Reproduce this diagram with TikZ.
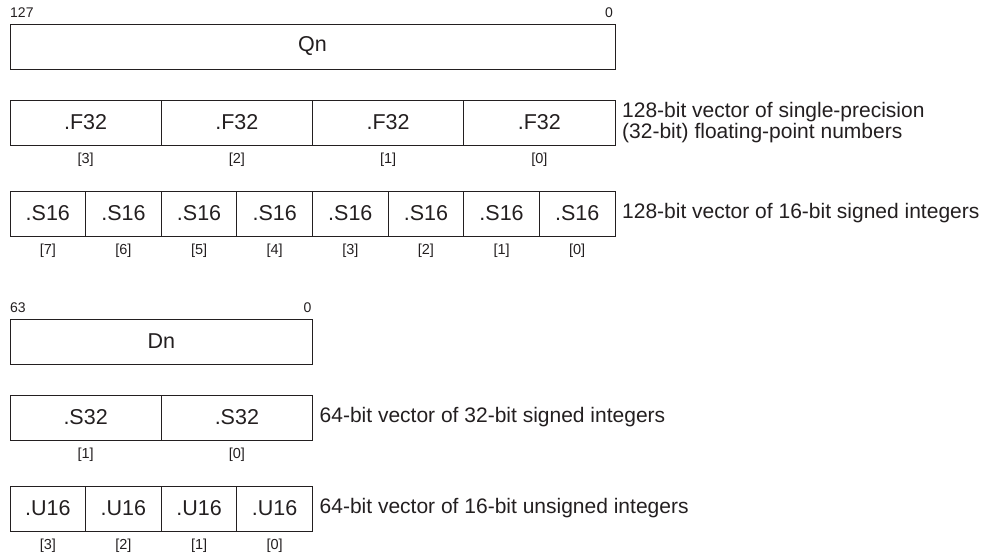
\documentclass[tikz,border=0pt]{standalone}
\usepackage{fontspec}
\setmainfont{Liberation Sans}
\usepackage{xcolor}
\usetikzlibrary{positioning}
\definecolor{ink}{RGB}{35,31,32}

\begin{document}
\begin{tikzpicture}[
  x=1pt, y=1pt,
  every node/.style={text=ink},
  lane/.style={draw=ink, line width=0.8pt, minimum height=45pt, inner sep=0pt, outer sep=0pt, font=\fontsize{21.5}{24}\selectfont},
  qreg/.style={lane, minimum width=605pt},
  dreg/.style={lane, minimum width=302.5pt},
  wide/.style={lane, minimum width=151.25pt},
  narrow/.style={lane, minimum width=75.625pt},
  idx/.style={inner sep=0pt, font=\fontsize{14.5}{16}\selectfont},
  bitno/.style={inner sep=0pt, font=\fontsize{14}{16}\selectfont},
  desc/.style={inner sep=0pt, align=left, font=\fontsize{21}{21}\selectfont}
]
\useasboundingbox (0,0) rectangle (997,-553);

% 128-bit register
\node[qreg, anchor=north west] (qn) at (10,-24) {Qn};
\node[bitno, above right=6pt and 0pt of qn.north west] (q127) {127};
\node[bitno, above left=6pt and 2pt of qn.north east] (q0) {0};

\node[wide, below right=31pt and 0pt of qn.south west] (f3) {.F32};
\node[wide, right=0pt of f3] (f2) {.F32};
\node[wide, right=0pt of f2] (f1) {.F32};
\node[wide, right=0pt of f1] (f0) {.F32};
\node[idx, below=8pt of f3] (if3) {[3]};
\node[idx, below=8pt of f2] (if2) {[2]};
\node[idx, below=8pt of f1] (if1) {[1]};
\node[idx, below=8pt of f0] (if0) {[0]};
\node[desc, right=7pt of f0] (fdesc) {128-bit vector of single-precision\\(32-bit) floating-point numbers};

\node[narrow, below right=46pt and 0pt of f3.south west] (s7) {.S16};
\node[narrow, right=0pt of s7] (s6) {.S16};
\node[narrow, right=0pt of s6] (s5) {.S16};
\node[narrow, right=0pt of s5] (s4) {.S16};
\node[narrow, right=0pt of s4] (s3) {.S16};
\node[narrow, right=0pt of s3] (s2) {.S16};
\node[narrow, right=0pt of s2] (s1) {.S16};
\node[narrow, right=0pt of s1] (s0) {.S16};
\node[idx, below=8pt of s7] (is7) {[7]};
\node[idx, below=8pt of s6] (is6) {[6]};
\node[idx, below=8pt of s5] (is5) {[5]};
\node[idx, below=8pt of s4] (is4) {[4]};
\node[idx, below=8pt of s3] (is3) {[3]};
\node[idx, below=8pt of s2] (is2) {[2]};
\node[idx, below=8pt of s1] (is1) {[1]};
\node[idx, below=8pt of s0] (is0) {[0]};
\node[desc, right=7pt of s0] (sdesc) {128-bit vector of 16-bit signed integers};

% 64-bit register
\node[dreg, below right=83pt and 0pt of s7.south west] (dn) {Dn};
\node[bitno, above right=6pt and 0pt of dn.north west] (d63) {63};
\node[bitno, above left=6pt and 1pt of dn.north east] (d0) {0};

\node[wide, below right=31pt and 0pt of dn.south west] (w1) {.S32};
\node[wide, right=0pt of w1] (w0) {.S32};
\node[idx, below=8pt of w1] (iw1) {[1]};
\node[idx, below=8pt of w0] (iw0) {[0]};
\node[desc, right=7pt of w0] (wdesc) {64-bit vector of 32-bit signed integers};

\node[narrow, below right=46pt and 0pt of w1.south west] (u3) {.U16};
\node[narrow, right=0pt of u3] (u2) {.U16};
\node[narrow, right=0pt of u2] (u1) {.U16};
\node[narrow, right=0pt of u1] (u0) {.U16};
\node[idx, below=8pt of u3] (iu3) {[3]};
\node[idx, below=8pt of u2] (iu2) {[2]};
\node[idx, below=8pt of u1] (iu1) {[1]};
\node[idx, below=8pt of u0] (iu0) {[0]};
\node[desc, right=7pt of u0] (udesc) {64-bit vector of 16-bit unsigned integers};
\end{tikzpicture}
\end{document}
